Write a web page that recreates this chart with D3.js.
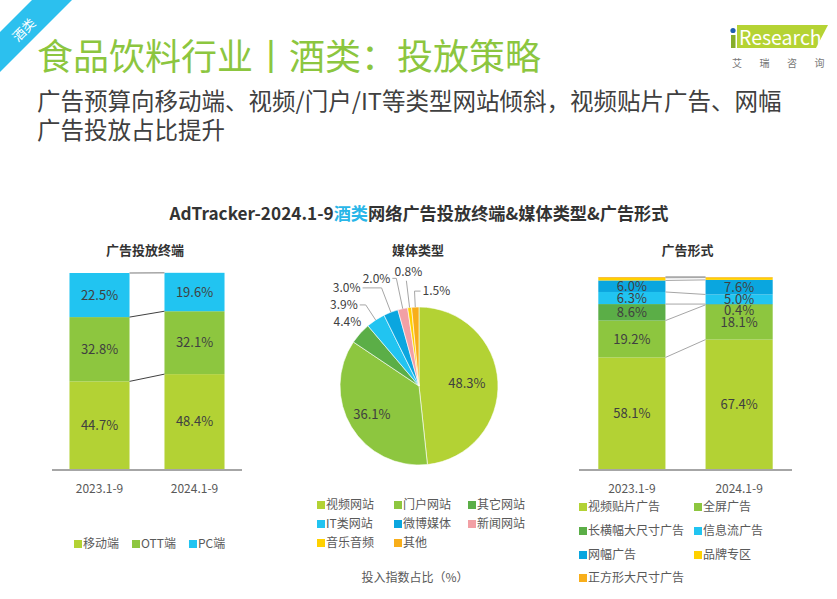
<!DOCTYPE html>
<html lang="zh">
<head>
<meta charset="UTF-8">
<title>食品饮料行业丨酒类：投放策略</title>
<script src="https://d3js.org/d3.v7.min.js"></script>
<style>
    body { margin: 0; background: #fff; }
    svg { display: block; font-family: "Noto Sans CJK SC", "Noto Sans", sans-serif; }
    .lbl { font-size: 13px; fill: #404040; }
    .leg { font-size: 12px; fill: #595959; }
    .sub { font-size: 13px; font-weight: bold; fill: #333; }
</style>
</head>
<body>
<svg id="chart" width="837" height="599"></svg>
<script>
// ---- data ----
const periods = ["2023.1-9", "2024.1-9"];

// 广告投放终端
const terminalNames = ["移动端", "OTT端", "PC端"];
const terminal2023 = [44.7, 32.8, 22.5];
const terminal2024 = [48.4, 32.1, 19.6];

// 媒体类型
const mediaNames = ["视频网站", "门户网站", "其它网站", "IT类网站", "微博媒体", "新闻网站", "音乐音频", "其他"];
const mediaValues = [48.3, 36.1, 4.4, 3.9, 3.0, 2.0, 0.8, 1.5];

// 广告形式
const formNames = ["视频贴片广告", "全屏广告", "长横幅大尺寸广告", "信息流广告", "网幅广告", "品牌专区", "正方形大尺寸广告"];
const form2023 = [58.1, 19.2, 8.6, 6.3, 6.0, 1.4, 0.4];
const form2024 = [67.4, 18.1, 0.4, 5.0, 7.6, 1.2, 0.3];

const lime = "#B3D234", green = "#8DC63F", dkgreen = "#5BAE47", cyan = "#21C4F1",
      blue = "#0AA6DF", pink = "#F2A0A5", yellow = "#FFD100", orange = "#F8AE1A";

const svg = d3.select("#chart");

// ---- header ----
const corner = svg.append("g");
corner.append("polygon").attr("points", "32,0 72,0 0,72 0,32").attr("fill", "#2CC0EE");
corner.append("text").attr("transform", "translate(24,30) rotate(-45)")
    .attr("text-anchor", "middle").attr("dy", "0.35em")
    .style("font-size", "13px").attr("fill", "#fff").text("酒类");

svg.append("text").attr("x", 37).attr("y", 70)
    .style("font-size", "36px").attr("fill", "#8CC63F")
    .text("食品饮料行业丨酒类：投放策略");
svg.append("text").attr("x", 37).attr("y", 110)
    .style("font-size", "23.5px").attr("fill", "#404040")
    .text("广告预算向移动端、视频/门户/IT等类型网站倾斜，视频贴片广告、网幅");
svg.append("text").attr("x", 37).attr("y", 139)
    .style("font-size", "23.5px").attr("fill", "#404040")
    .text("广告投放占比提升");

// logo
const logo = svg.append("g");
logo.append("polygon").attr("points", "737,25 828,25 816,48 737,48").attr("fill", "#B5D334");
logo.append("rect").attr("x", 731).attr("y", 35).attr("width", 4.5).attr("height", 13).attr("fill", "#86AD2A");
logo.append("circle").attr("cx", 733).attr("cy", 30.5).attr("r", 2.6).attr("fill", "#1F5FAF");
logo.append("text").attr("x", 739).attr("y", 44.5).style("font-size", "19.5px").attr("fill", "#fff").text("Research");
["艾", "瑞", "咨", "询"].forEach((c, i) => {
    logo.append("text").attr("x", 737 + i * 27.5).attr("y", 67).attr("text-anchor", "middle")
        .style("font-size", "10px").attr("fill", "#777").text(c);
});

// chart title
const title = svg.append("text").attr("x", 419).attr("y", 220).attr("text-anchor", "middle")
    .style("font-size", "17.2px").style("font-weight", "bold").attr("fill", "#333");
title.append("tspan").text("AdTracker-2024.1-9");
title.append("tspan").attr("fill", "#29B6E8").text("酒类");
title.append("tspan").text("网络广告投放终端&媒体类型&广告形式");

// ---- stacked bar helper ----
function stackedBars(opt) {
    const g = svg.append("g");
    const x = d3.scaleBand().domain(periods).range(opt.xRange).paddingInner(opt.pi).paddingOuter(opt.po);
    const y = d3.scaleLinear().domain([0, 100]).range(opt.yRange);
    const series = [opt.a, opt.b];
    const rows = periods.map((p, j) => {
        let acc = 0;
        return series[j].map((v, i) => { const s = { p, i, v, y0: acc, y1: acc + v }; acc += v; return s; });
    });

    g.append("text").attr("class", "sub").attr("text-anchor", "middle")
        .attr("x", (opt.xRange[0] + opt.xRange[1]) / 2 + opt.titleDx).attr("y", 255).text(opt.title);

    rows.forEach(r => {
        g.selectAll(null).data(r).enter().append("rect")
            .attr("x", d => x(d.p)).attr("width", x.bandwidth())
            .attr("y", d => y(d.y1)).attr("height", d => y(d.y0) - y(d.y1))
            .attr("fill", d => opt.colors[d.i]);
    });

    // connectors between the two bars
    const n = opt.a.length;
    d3.range(n).forEach(i => {
        const last = i === n - 1;
        g.append("line")
            .attr("x1", x(periods[0]) + x.bandwidth()).attr("y1", y(rows[0][i].y1))
            .attr("x2", x(periods[1])).attr("y2", y(rows[1][i].y1))
            .attr("stroke", last ? "#a6a6a6" : opt.linkColor).attr("stroke-width", last ? 1.5 : 1);
    });

    // segment labels, pushed down when too close to the one above
    rows.forEach(r => {
        let prev = -Infinity;
        r.slice(0, opt.labelCount).reverse().forEach(d => {
            let cy = (y(d.y0) + y(d.y1)) / 2;
            if (cy - prev < 11) cy = prev + 11;
            prev = cy;
            g.append("text").attr("class", "lbl").attr("text-anchor", "middle")
                .attr("x", x(d.p) + x.bandwidth() / 2).attr("y", cy).attr("dy", "0.35em")
                .text(d.v.toFixed(1) + "%");
        });
    });

    g.append("line").attr("x1", opt.xRange[0]).attr("x2", opt.xRange[1])
        .attr("y1", opt.yRange[0] + 1).attr("y2", opt.yRange[0] + 1)
        .attr("stroke", "#a6a6a6").attr("stroke-width", 2);
    g.selectAll(null).data(periods).enter().append("text")
        .attr("class", "leg").attr("fill", "#404040").attr("text-anchor", "middle")
        .attr("x", d => x(d) + x.bandwidth() / 2).attr("y", 493).text(d => d);
    return g;
}

stackedBars({
    title: "广告投放终端", titleDx: -2, a: terminal2023, b: terminal2024,
    colors: [lime, green, cyan], xRange: [52, 242], yRange: [469, 273],
    pi: 0.368, po: 0.184, labelCount: 3, linkColor: "#404040"
});
stackedBars({
    title: "广告形式", titleDx: 2, a: form2023, b: form2024,
    colors: [lime, green, dkgreen, cyan, blue, yellow, orange], xRange: [579, 792], yRange: [469, 277],
    pi: 0.374, po: 0.18, labelCount: 5, linkColor: "#a6a6a6"
});

// ---- pie ----
const pieColors = [lime, green, dkgreen, cyan, blue, pink, yellow, orange];
const cx = 419, cy = 386, R = 79;
const pg = svg.append("g").attr("transform", `translate(${cx},${cy})`);
svg.append("text").attr("class", "sub").attr("text-anchor", "middle").attr("x", 418).attr("y", 255).text("媒体类型");

const arcs = d3.pie().sort(null).value(d => d)(mediaValues);
const arc = d3.arc().innerRadius(0).outerRadius(R);
pg.selectAll("path").data(arcs).enter().append("path")
    .attr("d", arc).attr("fill", (d, i) => pieColors[i])
    .attr("stroke", "#fff").attr("stroke-width", 0.6);

// label placement per slice: inside, plain outside, or callout with elbow
const callout = [
    { mode: "in", r: 48 }, { mode: "in", r: 55 }, { mode: "out", r: 96 },
    { mode: "line", r: 97, leg: -6, anchor: "end" }, { mode: "line", r: 105, leg: -19, anchor: "end" },
    { mode: "line", r: 110, leg: -4, anchor: "end" }, { mode: "top", r: 106 },
    { mode: "line", r: 95, leg: 6, anchor: "start" }
];
const mid = d => (d.startAngle + d.endAngle) / 2;
const polar = (a, r) => [Math.sin(a) * r, -Math.cos(a) * r];
arcs.forEach((d, i) => {
    const c = callout[i], a = mid(d), txt = d.value.toFixed(1) + "%";
    if (c.mode === "in" || c.mode === "out") {
        const p = polar(a, c.r);
        pg.append("text").attr("class", "lbl").style("font-size", c.mode === "in" ? "13px" : "12px")
            .attr("fill", c.mode === "in" ? "#404040" : "#595959")
            .attr("text-anchor", "middle").attr("x", p[0]).attr("y", p[1]).attr("dy", "0.35em").text(txt);
        return;
    }
    const p0 = polar(a, R), p1 = polar(a, c.r);
    if (c.mode === "top") {
        pg.append("polyline").attr("points", [p0, p1].map(p => p.join(",")).join(" "))
            .attr("fill", "none").attr("stroke", "#a6a6a6");
        pg.append("text").attr("class", "lbl").style("font-size", "12px").attr("fill", "#595959")
            .attr("text-anchor", "middle").attr("x", p1[0] + 2).attr("y", p1[1] - 9).attr("dy", "0.35em").text(txt);
        return;
    }
    const p2 = [p1[0] + c.leg, p1[1]];
    pg.append("polyline").attr("points", [p0, p1, p2].map(p => p.join(",")).join(" "))
        .attr("fill", "none").attr("stroke", "#a6a6a6");
    pg.append("text").attr("class", "lbl").style("font-size", "12px").attr("fill", "#595959")
        .attr("text-anchor", c.anchor).attr("x", p2[0] + (c.leg < 0 ? -2 : 2)).attr("y", p2[1]).attr("dy", "0.35em").text(txt);
});

// ---- legends ----
function legendItem(g, x, y, color, label) {
    g.append("rect").attr("x", x).attr("y", y - 4).attr("width", 8).attr("height", 8).attr("fill", color);
    return g.append("text").attr("class", "leg").attr("x", x + 9).attr("y", y).attr("dy", "0.35em").text(label);
}

// terminal legend, laid out in a row
const lg1 = svg.append("g");
let lx = 74;
terminalNames.forEach((n, i) => {
    const t = legendItem(lg1, lx, 544, [lime, green, cyan][i], n);
    lx += 9 + t.node().getComputedTextLength() + 13;
});

// media legend, 3 columns
const lg2 = svg.append("g");
const col2 = [317, 394, 468], row2 = [505, 524, 543];
mediaNames.forEach((n, i) => legendItem(lg2, col2[i % 3], row2[Math.floor(i / 3)], pieColors[i], n));
svg.append("text").attr("class", "leg").attr("text-anchor", "middle").attr("x", 415).attr("y", 578)
    .attr("dy", "0.35em").text("投入指数占比（%）");

// form legend, 2 columns
const lg3 = svg.append("g");
const formColors = [lime, green, dkgreen, cyan, blue, yellow, orange];
const col3 = [579, 694], row3 = [507, 531, 555, 578];
formNames.forEach((n, i) => legendItem(lg3, col3[i % 2], row3[Math.floor(i / 2)], formColors[i], n));
</script>
</body>
</html>
